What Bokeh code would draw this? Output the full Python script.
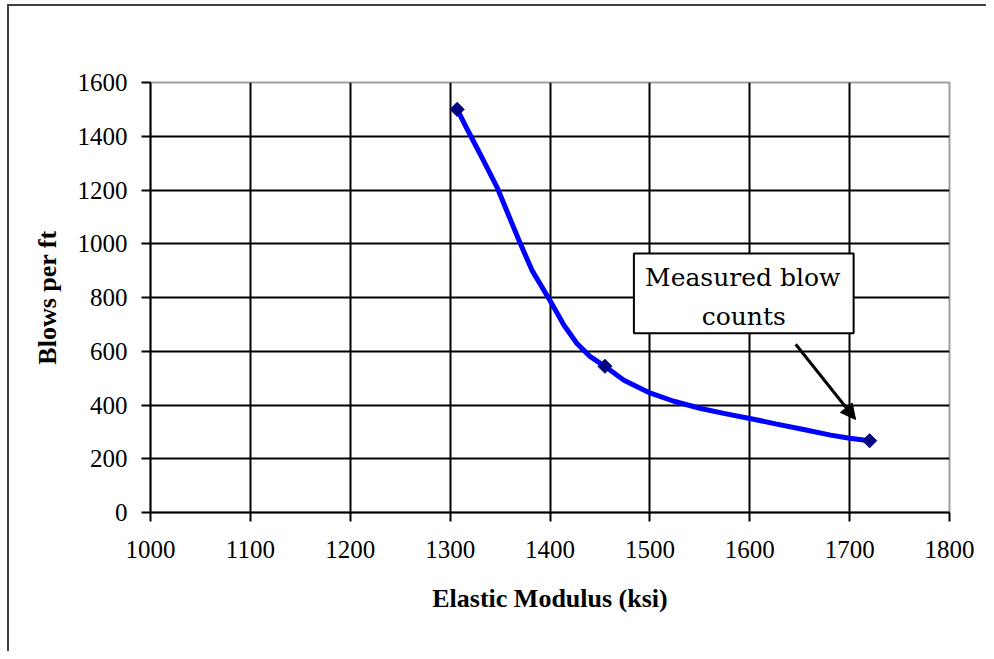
from bokeh.plotting import figure
from bokeh.models import (FixedTicker, Arrow, NormalHead, Label, BoxAnnotation,
                          Range1d)
from bokeh.embed import file_html
from bokeh.resources import INLINE
import numpy as np

# ---- data ----
x_ticks = [1000, 1100, 1200, 1300, 1400, 1500, 1600, 1700, 1800]
y_ticks = [0, 200, 400, 600, 800, 1000, 1200, 1400, 1600]

# measured points (markers)
measured_modulus = [1307, 1455, 1720]
measured_blows = [1500, 544, 267]

# smoothed curve as drawn in the reference
curve_modulus = [1307, 1317, 1330, 1347, 1369, 1382, 1400, 1414, 1427, 1440, 1455,
                 1474, 1500, 1524, 1551, 1574, 1600, 1627, 1654, 1681, 1700, 1720]
curve_blows = [1500, 1427, 1334, 1210, 1012, 901, 789, 697, 629, 581, 544,
               492, 445, 414, 387, 369, 350, 329, 309, 288, 276, 267]

x_title = "Elastic Modulus (ksi)"
y_title = "Blows per ft"
note_lines = ["Measured blow", "counts"]

SERIF = "Liberation Serif"

p = figure(width=986, height=651,
           x_range=Range1d(1000, 1800), y_range=Range1d(0, 1600),
           output_backend="svg", toolbar_location=None,
           min_border_left=150, min_border_right=37,
           min_border_top=82, min_border_bottom=139)

p.background_fill_color = "white"
p.border_fill_color = None
p.outline_line_color = "#a0a0a0"
p.outline_line_width = 2
# outer chart border (top and left edges, the others fall outside the picture)
p.styles = {"box-shadow": "inset 7px 4px 0 0 white, inset 9px 6px 0 0 #404040",
            "background-color": "white"}

# grid
p.xgrid.ticker = FixedTicker(ticks=x_ticks[1:-1])
p.ygrid.ticker = FixedTicker(ticks=y_ticks[1:-1])
for g in (p.xgrid, p.ygrid):
    g.grid_line_color = "black"
    g.grid_line_width = 2

# axes
p.xaxis.ticker = FixedTicker(ticks=x_ticks)
p.yaxis.ticker = FixedTicker(ticks=y_ticks)
for ax in (p.xaxis, p.yaxis):
    ax.axis_line_color = "black"
    ax.axis_line_width = 2
    ax.major_tick_line_color = "black"
    ax.major_tick_line_width = 2
    ax.major_tick_out = 9
    ax.major_tick_in = 0
    ax.minor_tick_line_color = None
    ax.major_label_text_font = SERIF
    ax.major_label_text_font_size = "25px"
    ax.major_label_text_color = "black"
    ax.axis_label_text_font = SERIF
    ax.axis_label_text_font_size = "26px"
    ax.axis_label_text_font_style = "bold"
    ax.axis_label_text_color = "black"

p.xaxis.axis_label = x_title
p.yaxis.axis_label = y_title
p.xaxis.major_label_standoff = 19
p.yaxis.major_label_standoff = 14
p.xaxis.axis_label_standoff = 23
p.yaxis.axis_label_standoff = 13

# curve and markers
p.line(curve_modulus, curve_blows, line_color="#0000ff", line_width=5)
p.scatter(measured_modulus, measured_blows, marker="square", angle=np.pi / 4,
          size=10, fill_color="#000080", line_color="#000080")

# annotation box with text
box = BoxAnnotation(left=1484, right=1704, top=964, bottom=667,
                    fill_color="white", fill_alpha=1.0,
                    line_color="black", line_width=2, line_alpha=1.0)
p.add_layout(box)
p.add_layout(Label(x=1593, y=874, text=note_lines[0], text_align="center",
                   text_baseline="alphabetic", text_font="DejaVu Serif",
                   text_font_size="25px", text_color="black"))
p.add_layout(Label(x=1594, y=729, text=note_lines[1], text_align="center",
                   text_baseline="alphabetic", text_font="DejaVu Serif",
                   text_font_size="25px", text_color="black"))

# arrow
p.add_layout(Arrow(end=NormalHead(size=15, fill_color="black", line_color="black"),
                   x_start=1646, y_start=626, x_end=1706, y_end=346,
                   line_color="black", line_width=3))

open("out.html", "w").write(file_html(p, INLINE))
